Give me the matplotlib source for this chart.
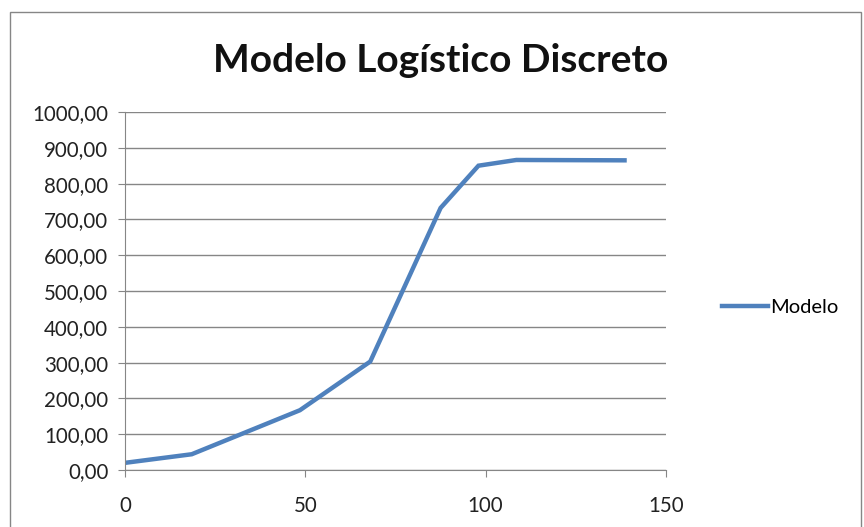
import matplotlib
matplotlib.use("Agg")
import matplotlib.pyplot as plt
from matplotlib.patches import Rectangle

x_vals = [0, 18.5, 48.5, 68, 87.5, 98, 108.5, 138.5]
y_vals = [20, 44, 167, 303, 732, 850, 866, 865]
series_name = "Modelo"
title = "Modelo Logístico Discreto"
y_ticks = [0, 100, 200, 300, 400, 500, 600, 700, 800, 900, 1000]
x_ticks = [0, 50, 100, 150]

plt.rcParams['font.family'] = ['Lato', 'DejaVu Sans']

fig = plt.figure(figsize=(8.64, 5.27), dpi=100)
fig.patches.append(Rectangle((10/864, -0.01), 851/864, 1 - 12/527 + 0.01, transform=fig.transFigure,
                             fill=False, edgecolor='#868686', linewidth=1.0))
ax = fig.add_axes([125/864, 1 - 470/527, (666 - 125)/864, (470 - 112)/527])

ax.plot(x_vals, y_vals, color='#4F81BD', linewidth=3.2, label=series_name, solid_joinstyle='miter')
ax.set_xlim(0, 150)
ax.set_ylim(0, 1000)
ax.set_xticks(x_ticks)
ax.set_xticklabels([str(v) for v in x_ticks])
ax.set_yticks(y_ticks)
ax.set_yticklabels([f"{v},00" for v in y_ticks])
ax.grid(axis='y', color='#868686', linewidth=1.0)
ax.set_axisbelow(True)
for s in ['top', 'right']:
    ax.spines[s].set_visible(False)
for s in ['left', 'bottom']:
    ax.spines[s].set_color('#868686')
ax.tick_params(axis='both', colors='#868686', labelcolor='#222222', labelsize=14.8, length=5)
ax.tick_params(axis='y', pad=7)
ax.tick_params(axis='x', pad=14)

fig.text(441/864, 1 - 60/527, title, ha='center', va='center', fontsize=28, fontweight='bold', color='#111111')

ax.legend(loc='center left', bbox_to_anchor=(1.07, 0.455), frameon=False, fontsize=14.5,
          handlelength=2.3, handletextpad=0.1)

fig.savefig("out.png", dpi=100)
